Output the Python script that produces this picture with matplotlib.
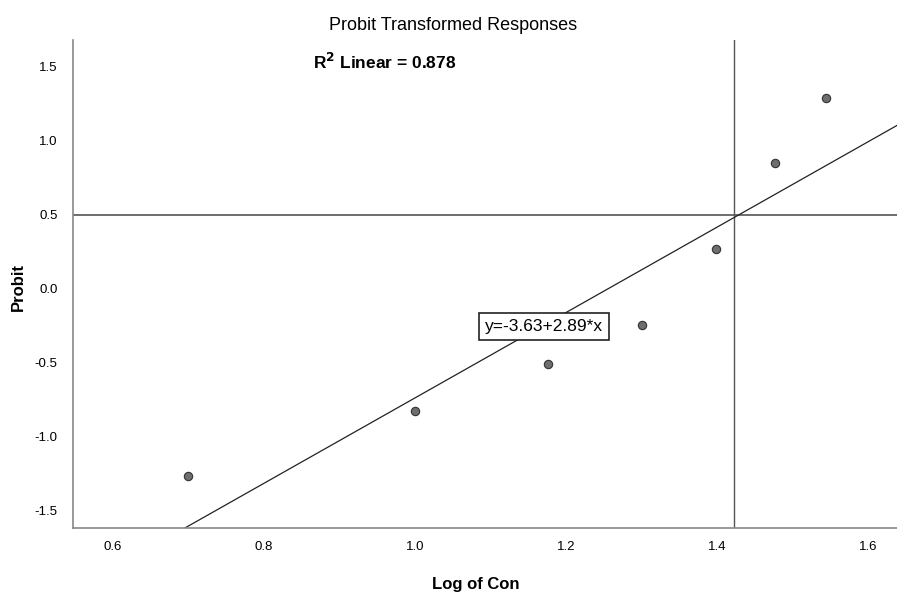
import numpy as np
import matplotlib
matplotlib.use("Agg")
import matplotlib.pyplot as plt

# Data
log_con = [0.699, 1.000, 1.176, 1.301, 1.398, 1.477, 1.544]
probit = [-1.27, -0.83, -0.51, -0.245, 0.265, 0.85, 1.29]
intercept = -3.63
slope = 2.89
r2 = 0.878
ref_y = 0.5
ref_x = 1.422
xticks = [0.6, 0.8, 1.0, 1.2, 1.4, 1.6]
yticks = [-1.5, -1.0, -0.5, 0.0, 0.5, 1.0, 1.5]

plt.rcParams['font.family'] = ['Liberation Sans', 'DejaVu Sans']

fig = plt.figure(figsize=(8.97, 5.95), dpi=100)
ax = fig.add_axes([73/897, (595-528)/595, 1 - 73/897, (528-40)/595])
xmin, xmax = 0.547, 1.638
ymin, ymax = -1.621, 1.682
ax.set_xlim(xmin, xmax)
ax.set_ylim(ymin, ymax)

ax.axhline(ref_y, color='#555555', lw=1.2, zorder=1)
ax.axvline(ref_x, color='#555555', lw=1.0, zorder=1)

xs = np.array([xmin, xmax])
ax.plot(xs, intercept + slope * xs, color='#222222', lw=0.9, zorder=2)

ax.scatter(log_con, probit, s=36, color='#6e6e6e', edgecolor='#333333', linewidths=0.8, zorder=3)

for s in ['top', 'right']:
    ax.spines[s].set_visible(False)
for s in ['left', 'bottom']:
    ax.spines[s].set_color('#888888')
    ax.spines[s].set_linewidth(1.2)

ax.set_xticks(xticks)
ax.set_xticklabels([f"{v:.1f}" for v in xticks])
ax.set_yticks(yticks)
ax.set_yticklabels([f"{v:.1f}" for v in yticks])
ax.tick_params(length=0, labelsize=9.5, colors='black')
ax.tick_params(axis='x', pad=9)
ax.tick_params(axis='y', pad=11)

fig.text(476/897, 1 - 585/595, "Log of Con", ha='center', va='center', fontsize=12, fontweight='bold')
fig.text(18/897, 1 - 287/595, "Probit", ha='center', va='center', fontsize=12, fontweight='bold',
         rotation=90)

fig.text(453/897, 1 - 25/595, "Probit Transformed Responses", ha='center', va='center', fontsize=13)
fig.text(313/897, 1 - 62/595, r"R$^{\mathbf{2}}$ Linear = " + f"{r2:.3f}", ha='left', va='center',
         fontsize=12.5, fontweight='bold')

ax.text(1.092, -0.26, f"y={intercept:.2f}+{slope:.2f}*x", ha='left', va='center', fontsize=12.5,
        bbox=dict(boxstyle='square,pad=0.35', fc='white', ec='#222222', lw=1.2), zorder=5)

fig.savefig("out.png", dpi=100)
